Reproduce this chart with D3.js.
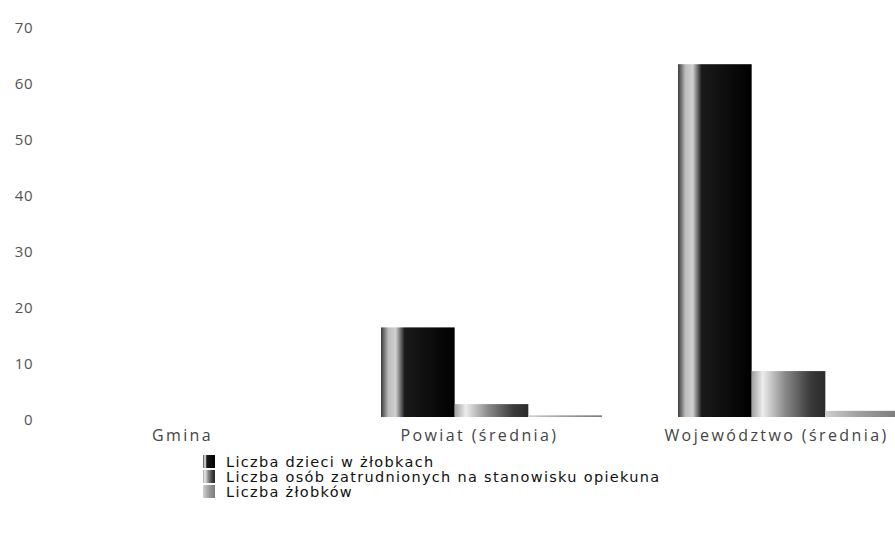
<!DOCTYPE html>
<html>
<head>
<meta charset="utf-8">
<script src="https://cdn.jsdelivr.net/npm/d3@7"></script>
<style>
  body { margin: 0; background: #fff; }
  svg { display: block; font-family: "Open Sans", sans-serif; }
</style>
</head>
<body>
<svg id="chart" width="895" height="535"></svg>
<script>
// Chart data
const categories = ["Gmina", "Powiat (średnia)", "Województwo (średnia)"];
const seriesNames = [
    "Liczba dzieci w żłobkach",
    "Liczba osób zatrudnionych na stanowisku opiekuna",
    "Liczba żłobków"
];
const dzieci = [0, 16, 63];
const opiekunowie = [0, 2.3, 8.2];
const zlobki = [0, 0.3, 1.1];
const yTicks = [0, 10, 20, 30, 40, 50, 60, 70];

const seriesValues = [dzieci, opiekunowie, zlobki];

const svg = d3.select("#chart");

// Scales
const x = d3.scaleBand()
    .domain(categories)
    .range([46, 937])
    .paddingInner(0.256)
    .paddingOuter(0.128);

const xInner = d3.scaleBand()
    .domain(d3.range(seriesNames.length))
    .range([0, x.bandwidth()]);

const y = d3.scaleLinear()
    .domain([0, 70])
    .range([417, 25]);

// Gradients that mimic the shaded bars
const defs = svg.append("defs");
const gradStops = [
    [[0, "#3a3a3a"], [0.1, "#bdbdbd"], [0.2, "#d0d0d0"], [0.32, "#1a1a1a"], [1, "#000"]],
    [[0, "#a0a0a0"], [0.15, "#ececec"], [0.45, "#8a8a8a"], [0.8, "#3a3a3a"], [1, "#2a2a2a"]],
    [[0, "#d0d0d0"], [0.4, "#a5a5a5"], [1, "#7a7a7a"]]
];
gradStops.forEach((stops, i) => {
    const g = defs.append("linearGradient")
        .attr("id", "grad" + i)
        .attr("x1", "0%").attr("x2", "100%")
        .attr("y1", "0%").attr("y2", "0%");
    stops.forEach(s => g.append("stop").attr("offset", s[0]).attr("stop-color", s[1]));
});

// Y axis (labels only)
const yAxis = svg.append("g")
    .attr("transform", "translate(33,3)")
    .call(d3.axisLeft(y).tickValues(yTicks).tickSize(0).tickPadding(0));
yAxis.select(".domain").remove();
yAxis.selectAll("text")
    .attr("font-family", "Open Sans, sans-serif")
    .attr("font-size", 15)
    .attr("fill", "#555")
    .attr("letter-spacing", "0.5px");

// Bars
const rows = categories.map((c, i) => ({ cat: c, values: seriesValues.map(s => s[i]) }));

const groups = svg.selectAll("g.group")
    .data(rows)
    .enter()
    .append("g")
    .attr("class", "group")
    .attr("transform", d => `translate(${x(d.cat)},0)`);

groups.selectAll("rect")
    .data(d => d.values)
    .enter()
    .append("rect")
    .attr("x", (d, i) => xInner(i))
    .attr("width", xInner.bandwidth())
    .attr("y", d => y(d))
    .attr("height", d => y(0) - y(d))
    .attr("fill", (d, i) => `url(#grad${i})`);

// Category labels
const xAxis = svg.append("g")
    .attr("transform", "translate(-12,430)")
    .call(d3.axisBottom(x).tickSize(0).tickPadding(0));
xAxis.select(".domain").remove();
xAxis.selectAll("text")
    .attr("font-family", "Open Sans, sans-serif")
    .attr("font-size", 16)
    .attr("fill", "#444")
    .attr("letter-spacing", "2.4px");

// Legend
const legend = svg.append("g").attr("transform", "translate(203,455)");
const legendRows = legend.selectAll("g")
    .data(seriesNames)
    .enter()
    .append("g")
    .attr("transform", (d, i) => `translate(0,${i * 15})`);

legendRows.append("rect")
    .attr("width", 12)
    .attr("height", 13)
    .attr("fill", (d, i) => `url(#grad${i})`);

legendRows.append("text")
    .attr("x", 23)
    .attr("y", 6.5)
    .attr("dy", "0.35em")
    .attr("font-family", "DejaVu Sans, sans-serif")
    .attr("font-size", 14.5)
    .attr("fill", "#111")
    .attr("letter-spacing", "1.3px")
    .text(d => d);
</script>
</body>
</html>
